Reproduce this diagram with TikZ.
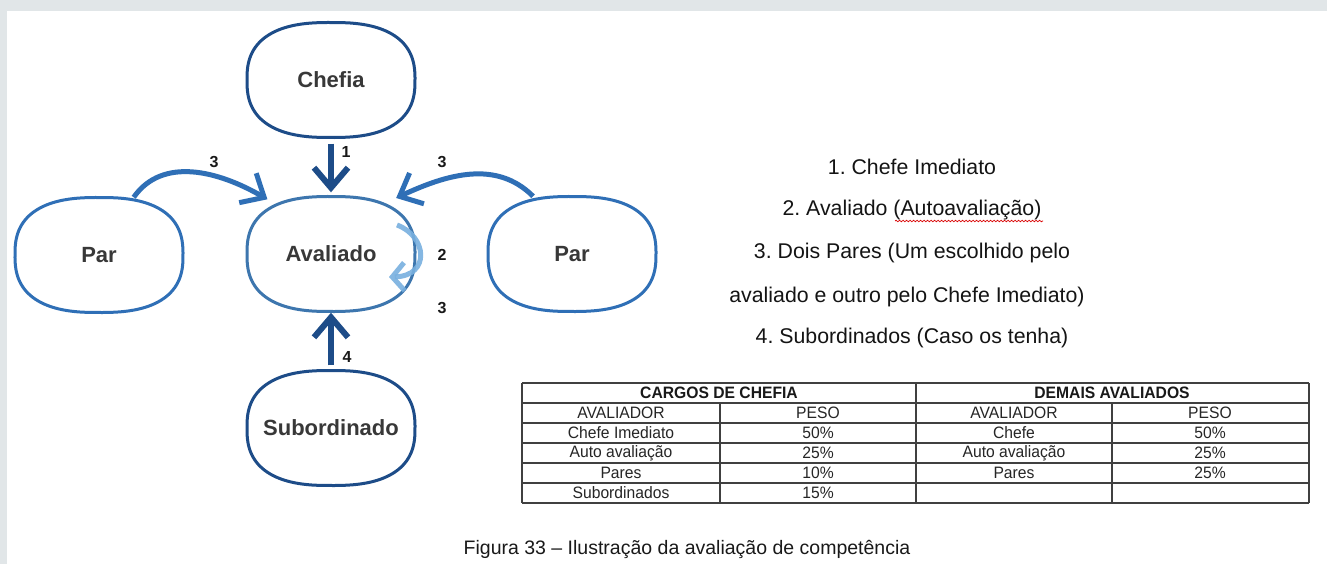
\documentclass[tikz,border=0pt]{standalone}
\usepackage{fontspec}
\setmainfont{Liberation Sans}
\newfontfamily\narrowfont[FakeStretch=0.95]{Liberation Sans}
\usetikzlibrary{arrows.meta,calc,decorations.pathmorphing}
\definecolor{bggray}{HTML}{E1E6E8}
\definecolor{navy}{HTML}{1D4C88}
\definecolor{midblue}{HTML}{2F6FB6}
\definecolor{avblue}{HTML}{3D76AE}
\definecolor{lightblue}{HTML}{78B0DF}
\definecolor{labelgray}{HTML}{383838}
\definecolor{gridgray}{HTML}{404040}
\tikzset{
  blob/.style={rectangle, minimum width=168pt, minimum height=115pt, inner sep=0pt,
    text=labelgray, font=\fontsize{22pt}{26pt}\selectfont\bfseries},
  blobline/.style={line width=3pt},
  darrow/.style={line width=6pt, -{Straight Barb[length=20pt,width=34pt]}},
  carrow/.style={draw=midblue, line width=5pt, -{Straight Barb[length=19pt,width=34pt]}},
  sarrow/.style={draw=lightblue, opacity=0.9, line width=5pt, -{Straight Barb[length=12pt,width=28pt]}},
  numlab/.style={inner sep=0pt, font=\fontsize{16pt}{18pt}\selectfont\bfseries, text=black!90},
  listtext/.style={inner sep=0pt, font=\fontsize{21.3pt}{24pt}\selectfont, text=black!92},
  cell/.style={inner sep=0pt, font=\narrowfont\fontsize{16.5pt}{18pt}\selectfont, text=black!85},
  hcell/.style={inner sep=0pt, font=\narrowfont\fontsize{16.5pt}{18pt}\selectfont\bfseries, text=black!90},
  grid/.style={draw=gridgray, line width=1.3pt},
}
\frenchspacing
\begin{document}
\begin{tikzpicture}[x=1pt,y=1pt]
\useasboundingbox (0,0) rectangle (1327,-564);
\fill[bggray] (0,0) rectangle (1327,-564);
\fill[white] (7,-11) rectangle (1327,-564);

% nodes
\node[blob] (chefia) at (331,-80) {Chefia};
\node[blob] (aval) at (331,-254) {Avaliado};
\node[blob] (parL) at (99,-255) {Par};
\node[blob] (parR) at (572,-254) {Par};
\node[blob] (sub) at (331,-428) {Subordinado};

% node outlines (superellipses)
\foreach \n/\c in {chefia/navy, aval/avblue, parL/midblue, parR/midblue, sub/navy}{
  \draw[blobline, draw=\c, shift={(\n.center)}]
    plot[domain=1:361, samples=121]
      ({84*(cos(\x)>=0?1:-1)*pow(abs(cos(\x)),0.78)}, {57.5*(sin(\x)>=0?1:-1)*pow(abs(sin(\x)),0.78)}) -- cycle;
}

% connectors
\draw[darrow,draw=navy, shorten <=6pt, shorten >=4pt] (chefia) -- (aval);
\draw[darrow,draw=navy, shorten <=5pt, shorten >=1pt] (sub) -- (aval);
\draw[carrow, shorten >=-6pt] (parL.59) to[out=55,in=150] (aval.140);
\draw[carrow, shorten >=-4pt] (parR.124) to[out=135,in=25] (aval.40);
\draw[sarrow] ($(aval.center)+(66,29)$) .. controls ($(aval.center)+(96,18)$) and ($(aval.center)+(100,-22)$) .. ($(aval.center)+(58,-23)$);

% number labels
\node[numlab] (n1) at (346,-152) {1};
\node[numlab] (n3a) at (214,-162) {3};
\node[numlab] (n3b) at (442,-162) {3};
\node[numlab] (n2) at (442,-255) {2};
\node[numlab] (n3c) at (442,-308) {3};
\node[numlab] (n4) at (347,-357) {4};

% list
\node[listtext] (l1) at (912,-167) {1. Chefe Imediato};
\node[listtext] (l2) at (912,-210) {2. Avaliado (Autoavaliação)};
\node[listtext] (l3) at (912,-253) {3. Dois Pares (Um escolhido pelo};
\node[listtext] (l4) at (907,-297) {avaliado e outro pelo Chefe Imediato)};
\node[listtext] (l5) at (912,-338) {4. Subordinados (Caso os tenha)};
\draw[red!85!black, line width=0.7pt, decorate, decoration={snake,amplitude=0.8pt,segment length=3.5pt}] (895,-221) -- (1043,-221);

% table grid
\foreach \yy in {383,403,423,443,463,483,503} \draw[grid] (522,-\yy) -- (1309,-\yy);
\draw[grid] (522,-383) -- (522,-503);
\draw[grid] (916,-383) -- (916,-503);
\draw[grid] (1309,-383) -- (1309,-503);
\draw[grid] (720,-403) -- (720,-503);
\draw[grid] (1112,-403) -- (1112,-503);

% table text
\node[hcell] (h1) at (719,-393) {CARGOS DE CHEFIA};
\node[hcell] (h2) at (1112,-393) {DEMAIS AVALIADOS};
\node[cell] (a1) at (621,-413) {AVALIADOR};
\node[cell] (a2) at (818,-413) {PESO};
\node[cell] (a3) at (1014,-413) {AVALIADOR};
\node[cell] (a4) at (1210,-413) {PESO};
\node[cell] (b1) at (621,-433) {Chefe Imediato};
\node[cell] (b2) at (818,-433) {50\%};
\node[cell] (b3) at (1014,-433) {Chefe};
\node[cell] (b4) at (1210,-433) {50\%};
\node[cell] (c1) at (621,-453) {Auto avaliação};
\node[cell] (c2) at (818,-453) {25\%};
\node[cell] (c3) at (1014,-453) {Auto avaliação};
\node[cell] (c4) at (1210,-453) {25\%};
\node[cell] (d1) at (621,-473) {Pares};
\node[cell] (d2) at (818,-473) {10\%};
\node[cell] (d3) at (1014,-473) {Pares};
\node[cell] (d4) at (1210,-473) {25\%};
\node[cell] (e1) at (621,-493) {Subordinados};
\node[cell] (e2) at (818,-493) {15\%};

% caption
\node[inner sep=0pt, font=\fontsize{19.5pt}{22pt}\selectfont, text=black!90] (cap) at (687,-549) {Figura 33 – Ilustração da avaliação de competência};
\end{tikzpicture}
\end{document}
